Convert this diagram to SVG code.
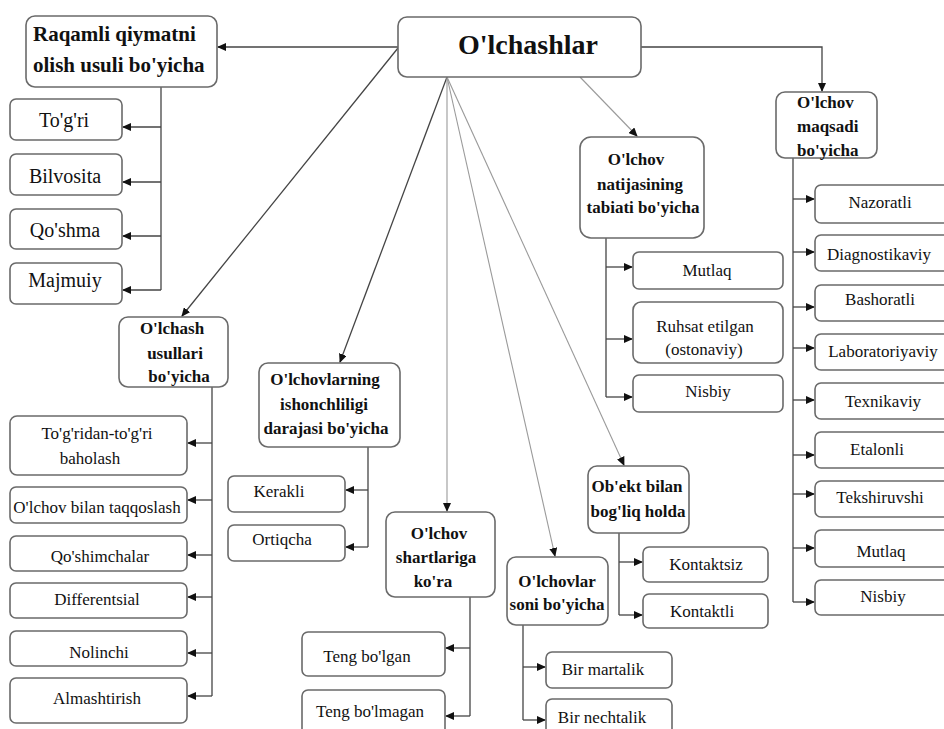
<svg xmlns="http://www.w3.org/2000/svg" width="944" height="729" viewBox="0 0 944 729">
<defs>
<marker id="ah" markerWidth="9" markerHeight="8" refX="8" refY="4" orient="auto" markerUnits="userSpaceOnUse">
<path d="M0,0 L9,4 L0,8 z" fill="#111"/>
</marker>
<style>
.bx{fill:#fff;stroke:#6a6a6a;stroke-width:1.6}
.t{font-family:"Liberation Serif","Times New Roman",serif;font-size:17px;fill:#111;text-anchor:middle}
.l{font-size:20px}
.h{font-family:"Liberation Serif","Times New Roman",serif;font-weight:bold;font-size:17px;fill:#111;text-anchor:middle}
.c{fill:none;stroke:#444;stroke-width:1.3}
.lc{fill:none;stroke:#9a9a9a;stroke-width:1.1}
.ar{marker-end:url(#ah)}
</style>
</defs>
<rect width="944" height="729" fill="#fff"/>

<g id="connectors">
<!-- from main -->
<line class="c ar" x1="398" y1="47" x2="218" y2="47"/>
<polyline class="c ar" points="641,47 822,47 822,91"/>
<line class="c ar" x1="398" y1="48" x2="182" y2="316"/>
<line class="c ar" x1="447" y1="77" x2="340" y2="362"/>
<line class="lc ar" x1="447" y1="77" x2="447" y2="511"/>
<line class="lc ar" x1="447" y1="77" x2="555" y2="556"/>
<line class="lc ar" x1="447" y1="77" x2="624" y2="465"/>
<line class="lc ar" x1="580" y1="77" x2="637" y2="136"/>
<!-- Raqamli -->
<polyline class="c" points="161,87 161,290"/>
<line class="c ar" x1="161" y1="127" x2="123" y2="127"/>
<line class="c ar" x1="161" y1="182" x2="123" y2="182"/>
<line class="c ar" x1="161" y1="236" x2="123" y2="236"/>
<line class="c ar" x1="161" y1="290" x2="123" y2="290"/>
<!-- O'lchash usullari -->
<polyline class="c" points="212,387 212,696"/>
<line class="c ar" x1="212" y1="443" x2="188" y2="443"/>
<line class="c ar" x1="212" y1="500" x2="188" y2="500"/>
<line class="c ar" x1="212" y1="555" x2="188" y2="555"/>
<line class="c ar" x1="212" y1="597" x2="188" y2="597"/>
<line class="c ar" x1="212" y1="653" x2="188" y2="653"/>
<line class="c ar" x1="212" y1="696" x2="188" y2="696"/>
<!-- ishonchliligi -->
<polyline class="c" points="368,447 368,547"/>
<line class="c ar" x1="368" y1="490" x2="346" y2="490"/>
<line class="c ar" x1="368" y1="547" x2="346" y2="547"/>
<!-- shartlariga -->
<polyline class="c" points="470,597 470,716"/>
<line class="c ar" x1="470" y1="648" x2="446" y2="648"/>
<line class="c ar" x1="470" y1="716" x2="446" y2="716"/>
<!-- soni -->
<polyline class="c" points="523,625 523,720"/>
<line class="c ar" x1="523" y1="667" x2="545" y2="667"/>
<line class="c ar" x1="523" y1="720" x2="545" y2="720"/>
<!-- Ob'ekt -->
<polyline class="c" points="619,533 619,615"/>
<line class="c ar" x1="619" y1="562" x2="642" y2="562"/>
<line class="c ar" x1="619" y1="615" x2="642" y2="615"/>
<!-- natijasining -->
<polyline class="c" points="606,238 606,397"/>
<line class="c ar" x1="606" y1="267" x2="632" y2="267"/>
<line class="c ar" x1="606" y1="339" x2="632" y2="339"/>
<line class="c ar" x1="606" y1="397" x2="632" y2="397"/>
<!-- maqsadi -->
<polyline class="c" points="793,158 793,602"/>
<line class="c ar" x1="793" y1="199" x2="814" y2="199"/>
<line class="c ar" x1="793" y1="252" x2="814" y2="252"/>
<line class="c ar" x1="793" y1="307" x2="814" y2="307"/>
<line class="c ar" x1="793" y1="348" x2="814" y2="348"/>
<line class="c ar" x1="793" y1="400" x2="814" y2="400"/>
<line class="c ar" x1="793" y1="455" x2="814" y2="455"/>
<line class="c ar" x1="793" y1="494" x2="814" y2="494"/>
<line class="c ar" x1="793" y1="548" x2="814" y2="548"/>
<line class="c ar" x1="793" y1="602" x2="814" y2="602"/>
</g>

<g id="main"><rect class="bx" x="398" y="17" width="243" height="60" rx="9"/><text class="h" x="528" y="54" style="font-size:28px">O'lchashlar</text></g>

<g id="raqamli"><rect class="bx" x="26" y="16" width="191" height="71" rx="9"/>
<text class="h" x="33" y="41" style="font-size:21px;text-anchor:start">Raqamli qiymatni</text>
<text class="h" x="33" y="72" style="font-size:21px;text-anchor:start">olish usuli bo'yicha</text></g>
<g id="togri"><rect class="bx" x="10" y="99" width="112" height="41" rx="6"/><text class="t l" x="64" y="127">To'g'ri</text></g>
<g id="bilvosita"><rect class="bx" x="10" y="154" width="112" height="41" rx="6"/><text class="t l" x="65" y="183">Bilvosita</text></g>
<g id="qoshma"><rect class="bx" x="10" y="209" width="112" height="40" rx="6"/><text class="t l" x="65" y="237">Qo'shma</text></g>
<g id="majmuiy"><rect class="bx" x="10" y="263" width="112" height="41" rx="6"/><text class="t l" x="65" y="287">Majmuiy</text></g>

<g id="usullari"><rect class="bx" x="119" y="317" width="109" height="70" rx="9"/>
<text class="h" x="172" y="334">O'lchash</text><text class="h" x="175" y="359">usullari</text><text class="h" x="179" y="382">bo'yicha</text></g>
<g id="togridan"><rect class="bx" x="10" y="416" width="177" height="59" rx="7"/><text class="t" x="97" y="439">To'g'ridan-to'g'ri</text><text class="t" x="90" y="464">baholash</text></g>
<g id="taqqoslash"><rect class="bx" x="10" y="487" width="177" height="36" rx="6"/><text class="t" x="97" y="513">O'lchov bilan taqqoslash</text></g>
<g id="qoshimchalar"><rect class="bx" x="10" y="536" width="177" height="35" rx="6"/><text class="t" x="100" y="562">Qo'shimchalar</text></g>
<g id="differentsial"><rect class="bx" x="10" y="583" width="177" height="35" rx="6"/><text class="t" x="97" y="605">Differentsial</text></g>
<g id="nolinchi"><rect class="bx" x="10" y="631" width="177" height="35" rx="6"/><text class="t" x="99" y="658">Nolinchi</text></g>
<g id="almashtirish"><rect class="bx" x="10" y="678" width="177" height="45" rx="6"/><text class="t" x="97" y="704">Almashtirish</text></g>

<g id="ishonchliligi"><rect class="bx" x="259" y="363" width="141" height="84" rx="9"/>
<text class="h" x="325" y="385">O'lchovlarning</text><text class="h" x="324" y="410">ishonchliligi</text><text class="h" x="326" y="434">darajasi bo'yicha</text></g>
<g id="kerakli"><rect class="bx" x="228" y="476" width="117" height="36" rx="6"/><text class="t" x="279" y="497">Kerakli</text></g>
<g id="ortiqcha"><rect class="bx" x="228" y="525" width="117" height="36" rx="6"/><text class="t" x="282" y="545">Ortiqcha</text></g>

<g id="shartlariga"><rect class="bx" x="386" y="512" width="109" height="85" rx="9"/>
<text class="h" x="439" y="539">O'lchov</text><text class="h" x="436" y="563">shartlariga</text><text class="h" x="433" y="587">ko'ra</text></g>
<g id="tengbolgan"><rect class="bx" x="302" y="632" width="143" height="44" rx="6"/><text class="t" x="367" y="662">Teng bo'lgan</text></g>
<g id="tengbolmagan"><rect class="bx" x="302" y="690" width="143" height="50" rx="6"/><text class="t" x="370" y="717">Teng bo'lmagan</text></g>

<g id="soni"><rect class="bx" x="507" y="557" width="101" height="68" rx="9"/>
<text class="h" x="557" y="587">O'lchovlar</text><text class="h" x="557" y="610">soni bo'yicha</text></g>
<g id="birmartalik"><rect class="bx" x="546" y="652" width="126" height="36" rx="6"/><text class="t" x="603" y="675">Bir martalik</text></g>
<g id="birnechtalik"><rect class="bx" x="546" y="699" width="126" height="40" rx="6"/><text class="t" x="602" y="723">Bir nechtalik</text></g>

<g id="obekt"><rect class="bx" x="588" y="466" width="101" height="67" rx="9"/>
<text class="h" x="637" y="492">Ob'ekt bilan</text><text class="h" x="638" y="517">bog'liq holda</text></g>
<g id="kontaktsiz"><rect class="bx" x="643" y="547" width="125" height="35" rx="6"/><text class="t" x="706" y="570">Kontaktsiz</text></g>
<g id="kontaktli"><rect class="bx" x="643" y="594" width="125" height="34" rx="6"/><text class="t" x="702" y="617">Kontaktli</text></g>

<g id="natijasining"><rect class="bx" x="580" y="137" width="124" height="101" rx="11"/>
<text class="h" x="636" y="165">O'lchov</text><text class="h" x="640" y="190">natijasining</text><text class="h" x="643" y="213">tabiati bo'yicha</text></g>
<g id="mutlaq1"><rect class="bx" x="633" y="252" width="150" height="37" rx="6"/><text class="t" x="707" y="276">Mutlaq</text></g>
<g id="ruhsat"><rect class="bx" x="633" y="302" width="150" height="61" rx="8"/><text class="t" x="705" y="332">Ruhsat etilgan</text><text class="t" x="704" y="355">(ostonaviy)</text></g>
<g id="nisbiy1"><rect class="bx" x="633" y="375" width="150" height="37" rx="6"/><text class="t" x="708" y="397">Nisbiy</text></g>

<g id="maqsadi"><rect class="bx" x="776" y="92" width="101" height="66" rx="9"/>
<text class="h" x="797" y="108" style="text-anchor:start">O'lchov</text><text class="h" x="797" y="132" style="text-anchor:start">maqsadi</text><text class="h" x="797" y="156" style="text-anchor:start">bo'yicha</text></g>
<g id="nazoratli"><rect class="bx" x="815" y="185" width="140" height="38" rx="6"/><text class="t" x="880" y="208">Nazoratli</text></g>
<g id="diagnostikaviy"><rect class="bx" x="815" y="235" width="140" height="36" rx="6"/><text class="t" x="879" y="260">Diagnostikaviy</text></g>
<g id="bashoratli"><rect class="bx" x="815" y="285" width="140" height="36" rx="6"/><text class="t" x="880" y="305">Bashoratli</text></g>
<g id="laboratoriyaviy"><rect class="bx" x="815" y="334" width="140" height="36" rx="6"/><text class="t" x="883" y="357">Laboratoriyaviy</text></g>
<g id="texnikaviy"><rect class="bx" x="815" y="383" width="140" height="36" rx="6"/><text class="t" x="883" y="407">Texnikaviy</text></g>
<g id="etalonli"><rect class="bx" x="815" y="432" width="140" height="36" rx="6"/><text class="t" x="877" y="455">Etalonli</text></g>
<g id="tekshiruvshi"><rect class="bx" x="815" y="481" width="140" height="36" rx="6"/><text class="t" x="880" y="503">Tekshiruvshi</text></g>
<g id="mutlaq2"><rect class="bx" x="815" y="530" width="140" height="37" rx="6"/><text class="t" x="881" y="557">Mutlaq</text></g>
<g id="nisbiy2"><rect class="bx" x="815" y="580" width="140" height="35" rx="6"/><text class="t" x="883" y="602">Nisbiy</text></g>
</svg>
